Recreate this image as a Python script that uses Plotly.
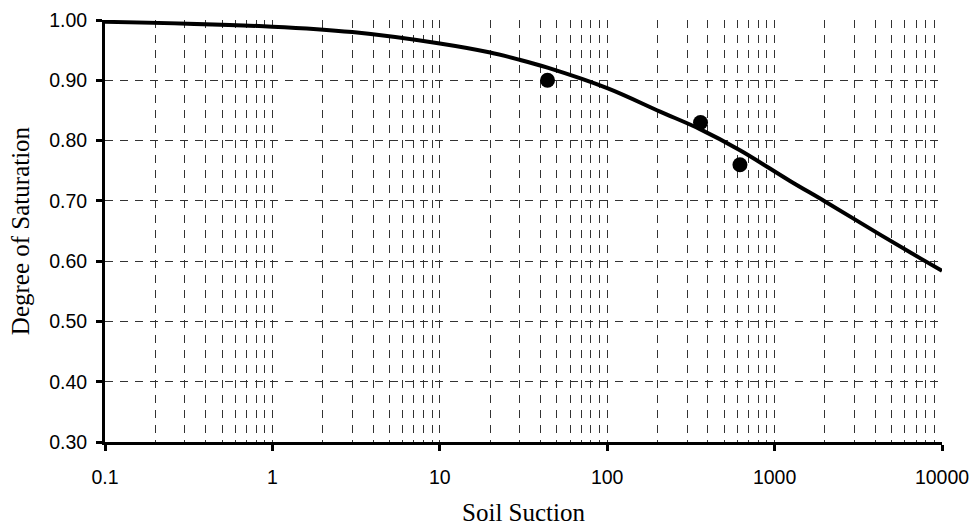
import plotly.graph_objects as go

# Fitted curve
curve_x = [0.1, 1, 3, 10, 20, 30, 44, 100, 207, 358, 621, 1236, 2000, 4266, 7390, 10000]
curve_y = [0.997, 0.989, 0.980, 0.961, 0.946, 0.934, 0.921, 0.887, 0.848, 0.819, 0.784, 0.733, 0.699, 0.644, 0.605, 0.584]

# Measured points
meas_x = [44, 361, 621]
meas_y = [0.90, 0.83, 0.76]

x_tickvals = [0.1, 1, 10, 100, 1000, 10000]
x_ticktext = ["0.1", "1", "10", "100", "1000", "10000"]
y_tickvals = [0.3, 0.4, 0.5, 0.6, 0.7, 0.8, 0.9, 1.0]
y_ticktext = ["0.30", "0.40", "0.50", "0.60", "0.70", "0.80", "0.90", "1.00"]
x_minor = [m * 10 ** e for e in range(-1, 4) for m in range(2, 10)]

fig = go.Figure()
fig.add_trace(go.Scatter(x=curve_x, y=curve_y, mode="lines",
                         line=dict(color="black", width=4, shape="spline"),
                         showlegend=False, hoverinfo="skip"))
fig.add_trace(go.Scatter(x=meas_x, y=meas_y, mode="markers",
                         marker=dict(color="black", size=15),
                         showlegend=False))

grid_dash = "8px,7px"
title_font = dict(family="Liberation Serif, Times New Roman", size=25, color="black")
fig.update_layout(
    width=975, height=526,
    margin=dict(l=105, r=33, t=20, b=84),
    paper_bgcolor="white", plot_bgcolor="white",
    font=dict(family="Liberation Sans, Arial", size=19.5, color="black"),
    xaxis=dict(
        type="log", range=[-1, 4], automargin=False,
        tickmode="array", tickvals=x_tickvals, ticktext=x_ticktext,
        showline=True, linecolor="black", linewidth=3,
        ticks="outside", ticklen=6, tickwidth=3, tickcolor="black",
        ticklabelstandoff=10,
        showgrid=True, gridcolor="#333", gridwidth=1, griddash=grid_dash,
        minor=dict(tickvals=x_minor, showgrid=True, gridcolor="#333",
                   gridwidth=1, griddash=grid_dash, ticks=""),
        zeroline=False,
        title=dict(text="Soil Suction", font=title_font, standoff=21),
        tickfont=dict(size=19.5),
    ),
    yaxis=dict(
        range=[0.3, 1.0], automargin=False,
        tickmode="array", tickvals=y_tickvals, ticktext=y_ticktext,
        showline=True, linecolor="black", linewidth=3,
        ticks="outside", ticklen=6, tickwidth=3, tickcolor="black",
        ticklabelstandoff=5,
        showgrid=True, gridcolor="#333", gridwidth=1, griddash=grid_dash,
        zeroline=False,
        title=dict(text="Degree of Saturation", font=title_font, standoff=13),
        tickfont=dict(size=19.5),
    ),
)

fig.write_html("out.html",
               config={"displayModeBar": False},
               post_script="document.body.style.margin='0';document.body.style.overflow='hidden';")
